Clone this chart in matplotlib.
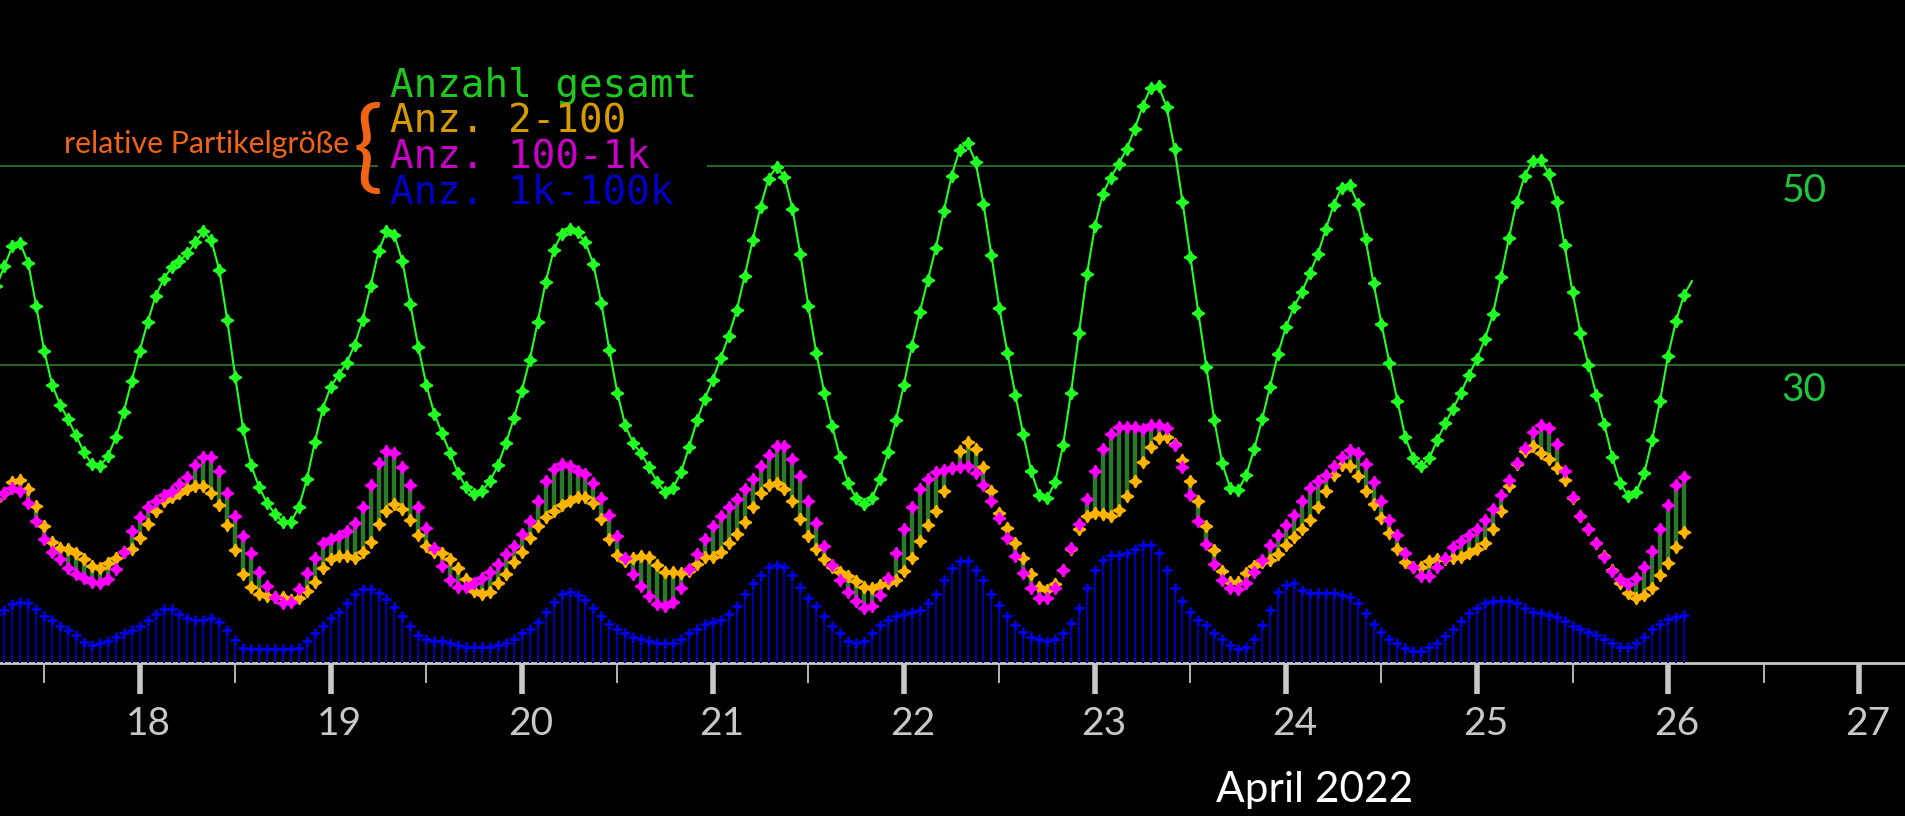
import numpy as np
import pandas as pd
import matplotlib
matplotlib.use('Agg')
import matplotlib.pyplot as plt
import matplotlib.dates as mdates
from matplotlib.patches import Rectangle
from matplotlib.transforms import ScaledTranslation, blended_transform_factory

# hourly values, first reading 2022-04-17 06:00
gesamt = [37.9, 39.9, 41.9, 42.2, 40.2, 35.9, 31.4, 28.0, 26.0, 24.5,
          22.9, 21.2, 20.0, 19.8, 20.8, 22.7, 25.3, 28.4, 31.4, 34.3,
          36.9, 38.6, 39.8, 40.4, 41.2, 42.3, 43.4, 42.5, 39.5, 34.5,
          28.8, 23.5, 19.9, 17.7, 16.1, 15.0, 14.2, 14.2, 15.7, 18.5,
          22.2, 25.6, 27.8, 29.0, 30.2, 32.0, 34.5, 37.9, 41.4, 43.4,
          43.0, 40.4, 36.1, 31.8, 28.0, 25.1, 23.1, 21.1, 19.1, 17.7,
          17.0, 17.3, 18.3, 19.9, 22.1, 24.6, 27.4, 30.5, 34.3, 38.3,
          41.5, 43.1, 43.6, 43.3, 42.3, 40.1, 36.2, 31.5, 27.2, 23.9,
          22.1, 21.1, 19.7, 18.2, 17.2, 17.6, 19.2, 21.7, 24.4, 26.6,
          28.5, 30.7, 32.9, 35.5, 38.9, 42.5, 45.9, 48.7, 49.9, 48.9,
          45.7, 41.1, 35.9, 31.2, 27.2, 23.8, 20.7, 18.1, 16.6, 16.0,
          16.6, 18.5, 21.2, 24.4, 28.0, 31.9, 35.3, 38.5, 41.7, 45.4,
          49.0, 51.6, 52.3, 50.4, 46.2, 41.0, 35.7, 31.2, 27.0, 23.0,
          19.3, 16.9, 16.6, 18.2, 21.9, 27.2, 33.2, 39.1, 43.9, 47.2,
          48.8, 50.2, 51.7, 53.7, 56.0, 57.8, 58.0, 55.9, 51.7, 46.4,
          40.8, 35.2, 29.8, 24.4, 20.1, 17.6, 17.4, 18.9, 21.5, 24.5,
          27.8, 31.1, 33.8, 35.8, 37.3, 39.2, 41.1, 43.6, 46.1, 47.8,
          48.1, 46.2, 42.6, 38.2, 34.1, 30.2, 26.4, 22.7, 20.6, 19.8,
          20.6, 22.4, 24.1, 25.6, 27.2, 29.0, 30.6, 32.6, 35.1, 38.8,
          42.7, 46.4, 49.0, 50.5, 50.6, 49.2, 46.4, 42.0, 37.3, 33.2,
          30.0, 27.0, 24.0, 20.7, 18.1, 16.8, 17.2, 19.1, 22.4, 26.4,
          30.9, 34.4, 37.0, 38.4]

anz_2_100 = [16.4, 17.1, 18.25, 18.4, 17.55, 15.8, 13.8, 12.2, 11.6, 11.45,
             11.1, 10.45, 9.8, 9.6, 10.05, 10.6, 11.2, 11.45, 12.6, 14.0,
             15.3, 16.3, 16.75, 17.15, 17.55, 17.8, 17.8, 17.15, 15.95, 13.85,
             11.4, 9.0, 7.65, 6.95, 6.75, 6.7, 6.65, 6.35, 6.6, 7.25,
             8.2, 9.6, 10.45, 10.8, 10.8, 10.55, 11.2, 12.2, 14.0, 15.3,
             16.0, 15.55, 14.4, 12.85, 11.8, 11.2, 11.05, 10.45, 9.6, 8.45,
             7.3, 6.95, 7.2, 8.05, 8.95, 10.15, 11.15, 12.6, 13.8, 14.7,
             15.3, 15.95, 16.3, 16.7, 16.7, 16.1, 14.55, 12.45, 10.85, 10.3,
             10.55, 10.75, 10.65, 9.85, 9.2, 9.2, 9.1, 9.3, 9.95, 10.65,
             10.65, 11.2, 12.05, 13.0, 14.2, 15.7, 17.1, 17.95, 18.15, 17.55,
             16.3, 14.55, 12.8, 11.45, 10.45, 9.7, 9.2, 8.75, 8.25, 7.7,
             7.6, 7.9, 8.1, 8.4, 9.25, 10.6, 12.25, 13.85, 15.3, 17.3,
             19.6, 21.35, 22.2, 21.55, 19.75, 17.3, 15.1, 13.6, 12.05, 10.6,
             8.95, 7.7, 7.4, 8.0, 9.35, 11.45, 13.45, 14.8, 15.1, 15.0,
             14.8, 15.4, 16.8, 18.35, 20.2, 21.75, 22.6, 22.75, 22.0, 20.4,
             18.35, 16.35, 13.75, 11.4, 9.25, 8.15, 8.2, 9.05, 9.8, 10.2,
             10.4, 11.0, 11.85, 12.7, 13.45, 14.4, 15.75, 17.35, 18.95, 19.9,
             19.8, 18.8, 17.35, 16.0, 14.65, 13.1, 11.5, 10.2, 9.65, 9.65,
             10.3, 10.5, 10.5, 10.6, 10.65, 11.1, 11.5, 12.05, 13.45, 15.35,
             17.8, 20.0, 21.35, 21.8, 21.15, 20.55, 19.6, 18.4, 16.6, 14.8,
             13.45, 12.05, 10.8, 9.4, 8.05, 7.1, 6.55, 6.85, 7.6, 8.85,
             10.05, 11.65, 13.2]

anz_100_1k = [16.5, 17.15, 17.6, 17.35, 16.15, 14.35, 12.45, 11.2, 10.45, 9.6,
              9.0, 8.6, 8.2, 8.05, 8.45, 9.45, 11.2, 13.25, 14.75, 15.75,
              16.3, 16.9, 17.35, 18.0, 18.75, 19.95, 20.75, 20.75, 19.35, 17.15,
              14.8, 12.8, 11.05, 9.2, 7.75, 6.65, 6.05, 6.2, 7.45, 9.05,
              10.6, 12.05, 12.45, 12.8, 13.25, 14.15, 15.75, 17.9, 20.15, 21.35,
              21.15, 19.75, 17.9, 15.75, 13.55, 11.55, 9.75, 8.35, 7.65, 7.65,
              8.05, 8.6, 9.2, 9.95, 10.95, 11.75, 13.0, 14.3, 16.3, 18.3,
              19.55, 20.0, 19.8, 19.3, 19.0, 18.15, 16.65, 14.95, 12.8, 10.55,
              8.95, 7.8, 6.8, 6.0, 5.8, 6.2, 7.6, 9.5, 10.95, 12.45,
              13.8, 14.8, 15.7, 16.55, 17.55, 18.55, 19.8, 20.95, 21.8, 21.8,
              20.55, 18.8, 16.3, 14.05, 11.75, 9.85, 8.35, 7.2, 6.25, 5.6,
              5.75, 6.85, 8.55, 11.1, 13.45, 15.75, 17.5, 18.55, 19.25, 19.4,
              19.6, 19.75, 19.8, 19.15, 17.95, 16.35, 14.6, 12.6, 10.75, 9.05,
              7.6, 6.6, 6.6, 7.6, 9.35, 11.55, 13.95, 16.55, 19.35, 21.55,
              23.0, 23.75, 23.75, 23.75, 23.55, 23.95, 23.95, 23.6, 21.9, 19.75,
              16.9, 14.35, 12.0, 10.0, 8.4, 7.6, 7.5, 8.1, 9.15, 10.4,
              11.85, 12.85, 13.85, 14.95, 16.3, 17.6, 18.35, 18.95, 19.8, 20.75,
              21.4, 21.15, 20.0, 18.2, 16.35, 14.45, 12.85, 11.05, 9.65, 8.8,
              8.8, 9.65, 10.55, 11.65, 12.25, 12.85, 13.45, 14.4, 15.55, 16.95,
              18.4, 20.1, 21.6, 23.2, 23.95, 23.6, 22.0, 19.35, 16.7, 14.8,
              13.45, 12.05, 10.65, 9.3, 8.45, 8.0, 8.6, 9.65, 11.25, 13.45,
              15.9, 17.95, 18.75]

anz_1k_100k = [5.0, 5.35, 5.95, 6.2, 6.05, 5.45, 4.8, 4.4, 3.8, 3.35,
               2.8, 2.15, 1.8, 2.0, 2.2, 2.6, 3.0, 3.35, 3.8, 4.4,
               4.95, 5.45, 5.45, 5.0, 4.6, 4.4, 4.4, 4.6, 4.2, 3.35,
               2.35, 1.55, 1.4, 1.4, 1.4, 1.4, 1.4, 1.4, 1.55, 2.2,
               3.0, 3.8, 4.6, 5.2, 6.05, 7.0, 7.45, 7.45, 7.05, 6.45,
               5.65, 4.8, 3.8, 2.8, 2.4, 2.25, 2.25, 2.0, 1.8, 1.6,
               1.6, 1.6, 1.6, 1.8, 2.0, 2.4, 3.0, 3.4, 4.2, 5.2,
               6.2, 7.0, 7.2, 6.85, 6.4, 5.6, 4.8, 4.0, 3.4, 3.0,
               2.6, 2.4, 2.2, 2.0, 2.0, 2.0, 2.4, 3.0, 3.4, 4.0,
               4.2, 4.4, 5.0, 5.8, 7.0, 8.05, 8.85, 9.65, 9.85, 9.65,
               8.85, 7.65, 6.6, 5.8, 4.8, 3.8, 3.0, 2.2, 2.05, 2.2,
               3.0, 3.85, 4.4, 4.8, 5.0, 5.2, 5.4, 6.05, 7.0, 8.4,
               9.6, 10.3, 10.3, 9.4, 8.4, 7.0, 5.85, 4.8, 3.85, 3.15,
               2.6, 2.4, 2.2, 2.4, 3.0, 4.05, 5.6, 7.6, 9.4, 10.4,
               10.85, 10.85, 11.05, 11.45, 11.85, 11.85, 11.05, 9.4, 7.6, 6.25,
               5.2, 4.4, 3.85, 3.0, 2.4, 1.85, 1.4, 1.65, 2.4, 3.85,
               5.4, 7.15, 7.85, 8.05, 7.4, 7.1, 7.1, 7.1, 7.1, 6.85,
               6.65, 6.05, 5.05, 4.0, 3.15, 2.45, 2.0, 1.5, 1.25, 1.25,
               1.65, 2.0, 2.75, 3.45, 4.25, 5.05, 5.6, 6.05, 6.25, 6.25,
               6.25, 6.05, 5.6, 5.2, 5.05, 4.85, 4.65, 4.25, 3.8, 3.4,
               3.15, 2.85, 2.45, 2.05, 1.65, 1.65, 2.05, 2.6, 3.4, 4.0,
               4.45, 4.65, 4.85]

legend_lines = ['Anzahl gesamt', 'Anz. 2-100', 'Anz. 100-1k', 'Anz. 1k-100k']
legend_colors = ['#1ec81e', '#d79b00', '#c800c8', '#0000c8']
ref_levels = [30, 50]

t_all = pd.date_range('2022-04-17 06:00', periods=len(gesamt), freq='h')
t = t_all[:len(anz_2_100)]
orange = np.array(anz_2_100)
magenta = np.array(anz_100_1k)
blue = np.array(anz_1k_100k)

W, H = 1905, 816
fig = plt.figure(figsize=(W / 100, H / 100), dpi=100, facecolor='black')
ax = fig.add_axes([0, 0, 1, 1], facecolor='black')

day0 = pd.Timestamp('2022-04-18')
ax.set_xlim(day0 - pd.Timedelta(hours=17.55), day0 + pd.Timedelta(hours=221.77))
ax.set_ylim(-15.34, 66.65)

for lev in ref_levels:
    ax.axhline(lev, color='#2a7d2a', lw=1.2, zorder=1)

# blue stems
ax.vlines(t, 0, blue, color='#0000b4', lw=1.4, zorder=3)
ax.plot(t, blue, ls='none', marker='+', ms=6.5, mew=1.8, color='#0000ff', zorder=4)

# bars between the two middle classes
ax.vlines(t, np.minimum(orange, magenta), np.maximum(orange, magenta),
          color='#2a7a2a', lw=3.2, zorder=3)
star = (4, 1, 0)
ax.plot(t, orange, ls='none', marker=star, ms=9, mew=1.2, color='#ffb400', zorder=5)
ax.plot(t, magenta, ls='none', marker=star, ms=9, mew=1.2, color='#ff00ff', zorder=6)

# total count
ax.plot(t_all, gesamt, color='#22ff22', lw=1.5, zorder=7)
ax.plot(t_all[:-1], gesamt[:-1], ls='none', marker=star, ms=9, mew=1.2,
        color='#22ff22', zorder=7)

for s in ['top', 'left', 'right']:
    ax.spines[s].set_visible(False)
ax.spines['bottom'].set_position(('data', 0))
ax.spines['bottom'].set_color('#c8c8c8')
ax.spines['bottom'].set_linewidth(2)

ax.xaxis.set_major_locator(mdates.DayLocator())
ax.xaxis.set_minor_locator(mdates.HourLocator(byhour=[12]))
ax.tick_params(axis='x', which='major', direction='out', length=22, width=4,
               color='#c8c8c8', labelbottom=False)
ax.tick_params(axis='x', which='minor', direction='out', length=14.5, width=1.1,
               color='#e6e6e6')
ax.tick_params(axis='y', left=False, labelleft=False)

lab_trans = ax.transData + ScaledTranslation(9 / 100, -71.7 / 100, fig.dpi_scale_trans)
for d in pd.date_range('2022-04-18', '2022-04-27', freq='D'):
    ax.text(mdates.date2num(d), 0, str(d.day), transform=lab_trans, ha='center',
            va='baseline', color='#c8c8c8', fontsize=28, family='Lato')

rtrans = blended_transform_factory(ax.transAxes, ax.transData) + \
    ScaledTranslation(0, -36 / 100, fig.dpi_scale_trans)
for lev in ref_levels:
    ax.text(1781.7 / W, lev, str(lev), transform=rtrans, ha='left', va='baseline',
            color='#1ec83c', fontsize=28, family='Lato')

fig.text(1216 / W, 1 - 801.7 / H, 'April 2022', color='white', fontsize=30.5,
         family='Lato', ha='left', va='baseline')

# legend block
fig.add_artist(Rectangle((378 / W, 1 - 212 / H), (707 - 378) / W, (212 - 55) / H,
                         transform=fig.transFigure, facecolor='black',
                         edgecolor='none', zorder=10))
for i, (txt, col) in enumerate(zip(legend_lines, legend_colors)):
    fig.text(390 / W, 1 - (97 + 35.4 * i) / H, txt, color=col, fontsize=28.3,
             family='DejaVu Sans Mono', ha='left', va='baseline', zorder=11)

fig.text(349 / W, 1 - 153 / H, 'relative Partikelgröße', color='#f06414',
         fontsize=21.8, family='Lato', ha='right', va='baseline', zorder=11)
fig.text(368 / W, 1 - 150 / H, '{', color='#f06414', fontsize=72, family='Lato',
         ha='center', va='center', zorder=11)

fig.savefig('out.png', dpi=100, facecolor='black')
